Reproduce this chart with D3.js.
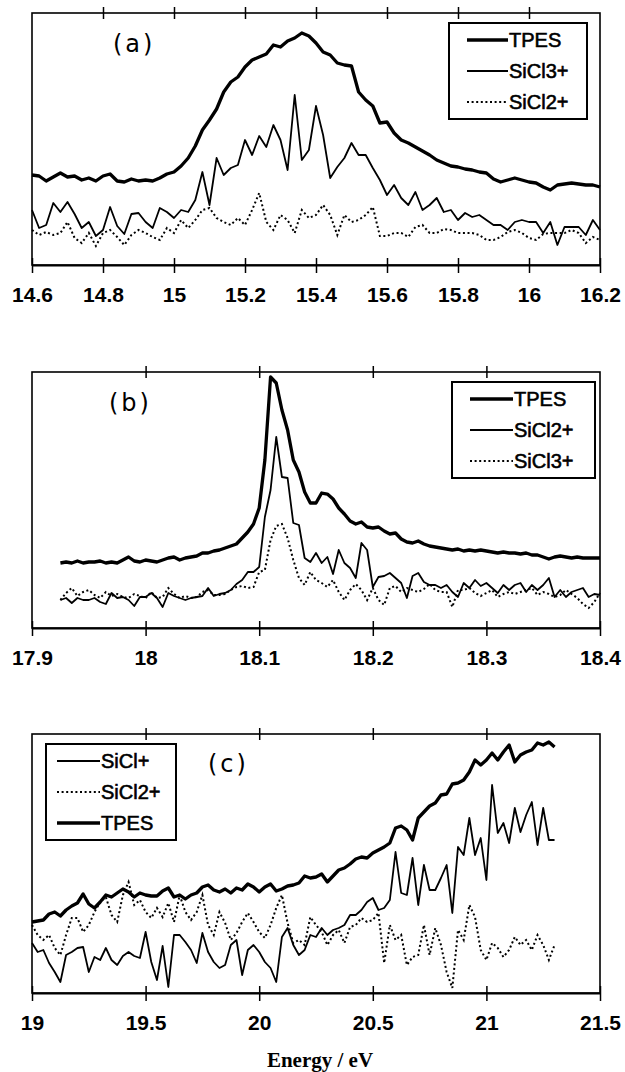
<!DOCTYPE html>
<meta charset="utf-8">
<style type="text/css">

body {
  margin: 0;
  background: #fff;
}

svg {
  display: block;
}

.frame {
  fill: none;
  stroke: #000;
  stroke-width: 1.6;
}

.tpes {
  fill: none;
  stroke: #000;
  stroke-width: 3.3;
  stroke-linejoin: round;
}

.solid {
  fill: none;
  stroke: #000;
  stroke-width: 1.8;
  stroke-linejoin: round;
}

.dotted {
  fill: none;
  stroke: #000;
  stroke-width: 2;
  stroke-dasharray: 2, 2.6;
}

.tick text {
  font-family: "Liberation Sans", Arial, sans-serif;
  font-weight: bold;
  font-size: 21px;
  fill: #000;
}

.legend rect {
  fill: #fff;
  stroke: #000;
  stroke-width: 2;
}

.legend text {
  font-family: "Liberation Sans", Arial, sans-serif;
  font-size: 20px;
  fill: #000;
  stroke: #000;
  stroke-width: 0.6;
}

.plabel {
  font-family: "DejaVu Sans", sans-serif;
  font-size: 24px;
  letter-spacing: 3px;
  fill: #000;
}

.xtitle {
  font-family: "Liberation Serif", "Times New Roman", serif;
  font-weight: bold;
  font-size: 21px;
  fill: #000;
}

</style>
<svg width="625" height="1072"></svg>
<script src="https://cdn.jsdelivr.net/npm/d3@7"></script>
<script>

// energy grids (eV) of the three scans
var energyA = d3.range(81).map(function(i){ return 14.6 + i*0.02; });
var energyB = d3.range(96).map(function(i){ return 17.925 + i*0.005; });
var energyC = d3.range(93).map(function(i){ return 19 + i*0.025; });

// (a) intensities, arbitrary units
var tpesA = [90,89,84,88,92,88,89,85,87,84, 89,91,84,83,86,84,85,84,87,91,
  93,99,107,119,135,145,156,173,183,188, 198,205,208,211,220,218,224,227,232,229,
  222,213,210,202,200,199,173,165,159,142, 143,132,125,122,118,114,110,105,102,99,
  98,96,95,93,92,86,83,85,87,85, 83,82,78,75,80,81,82,81,80,80, 78];
var sicl3A = [55,37,40,62,53,63,51,37,43,29, 35,58,39,31,51,52,43,37,57,53,
  47,55,53,65,93,60,107,90,97,100, 125,110,129,118,140,125,95,170,105,115,
  159,130,87,98,107,122,110,110,97,85, 70,80,67,60,73,55,60,67,53,55,
  45,52,48,50,45,40,40,35,43,45, 43,43,32,43,20,38,38,38,30,45, 35];
var sicl2A = [35,30,33,30,32,43,27,22,32,19, 32,35,28,20,30,35,32,28,25,37,
  32,45,37,45,55,57,47,43,40,47, 40,55,72,43,35,50,45,32,55,47,
  50,60,50,30,50,43,45,50,58,29, 29,32,32,28,38,40,32,32,36,35,
  32,32,32,30,25,25,28,33,35,32, 27,25,31,32,32,32,35,32,22,28, 25];

// (b)
var tpesB = [65,66,65,67,65,66,66,67,65,66, 65,68,71,67,66,68,67,66,68,70,
  71,68,70,71,72,75,75,77,78,80, 82,84,90,96,104,120,168,251,245,218,
  198,168,156,136,125,125,135,134,129,120, 114,107,104,106,101,100,101,97,94,95,
  89,86,85,87,84,82,81,80,79,78, 79,77,78,77,78,77,76,75,76,75,
  75,74,75,73,73,71,69,71,72,71, 70,71,70,70,70,70];
var sicl2B = [28,30,25,30,28,28,30,26,24,35, 30,31,28,22,31,31,35,30,21,35,
  32,30,28,30,31,32,40,32,34,35, 38,44,48,56,56,61,111,138,191,151,
  150,105,103,70,66,75,65,71,54,78, 65,60,50,85,78,41,51,52,55,50,
  45,30,52,55,46,43,43,40,43,36, 31,45,40,48,42,45,40,35,43,38,
  43,45,36,43,38,43,50,31,38,31, 36,38,40,31,34,33];
var sicl3B = [28,35,40,32,36,38,33,30,36,32, 34,31,30,34,32,30,36,30,31,40,
  34,30,32,30,31,36,38,33,33,34, 38,41,42,40,41,56,58,88,102,104,
  90,68,50,43,56,48,45,41,48,36, 28,38,44,38,28,40,28,23,40,42,
  36,40,38,36,39,44,38,36,36,21, 38,38,40,35,32,35,38,31,34,36,
  34,36,38,40,33,36,34,31,33,38, 34,30,24,20,26,35];

// (c)
var sicl1C = [50,41,43,30,21,11,38,41,45,46, 21,36,33,45,33,28,37,41,37,35,
  61,31,13,47,6,58,58,51,43,30, 60,41,31,25,28,48,53,18,43,48,
  41,31,25,11,56,65,48,38,43,58, 56,65,58,63,65,68,78,78,83,91,
  95,83,85,93,141,100,98,135,88,128, 103,103,115,128,80,146,138,175,138,155,
  113,208,160,170,150,185,161,178,191,148, 185,153,153];
var sicl2C = [68,58,53,58,45,38,58,75,75,61, 68,81,91,96,78,71,98,111,88,93,
  81,75,85,76,90,71,98,81,73,81, 98,68,58,81,70,53,60,71,80,71,
  61,55,68,85,98,70,50,53,48,76, 68,61,48,58,63,50,66,68,75,71,
  73,80,30,68,53,58,28,36,38,68, 38,65,48,21,5,63,53,88,76,43,
  33,50,45,36,43,56,48,53,43,58, 48,33,48];
var tpesC = [71,72,73,79,81,77,83,87,90,99, 89,85,91,98,96,100,104,101,96,100,
  98,97,97,102,105,96,98,94,98,100, 106,108,103,101,104,100,105,103,109,106,
  101,106,109,102,104,107,108,110,117,115, 116,119,111,117,123,125,129,134,136,135,
  140,143,146,150,165,167,163,153,175,181, 187,190,198,199,209,210,213,221,233,228,
  233,240,233,241,248,231,238,241,243,250, 248,251,246];

var ticksA = [14.6, 14.8, 15, 15.2, 15.4, 15.6, 15.8, 16, 16.2];
var ticksB = [17.9, 18, 18.1, 18.2, 18.3, 18.4];
var ticksC = [19, 19.5, 20, 20.5, 21, 21.5];

var svg = d3.select("svg"),
    left = 32,
    right = 600;

var panels = [
  { top: 13, bottom: 265, energy: energyA, ticks: ticksA, yMax: 252,
    series: [[tpesA, "tpes"], [sicl3A, "solid"], [sicl2A, "dotted"]],
    label: "(a)", lx: 113, ly: 52,
    leg: { x: 449, w: 138, lx1: 18, lx2: 59,
           items: [["TPES", "tpes"], ["SiCl3+", "solid"], ["SiCl2+", "dotted"]] } },
  { top: 372, bottom: 628, energy: energyB, ticks: ticksB, yMax: 256,
    series: [[tpesB, "tpes"], [sicl2B, "solid"], [sicl3B, "dotted"]],
    label: "(b)", lx: 109, ly: 411,
    leg: { x: 452, w: 143, lx1: 18, lx2: 61,
           items: [["TPES", "tpes"], ["SiCl2+", "solid"], ["SiCl3+", "dotted"]] } },
  { top: 734, bottom: 993, energy: energyC, ticks: ticksC, yMax: 259,
    series: [[sicl1C, "solid"], [sicl2C, "dotted"], [tpesC, "tpes"]],
    label: "(c)", lx: 208, ly: 772,
    leg: { x: 46, w: 130, lx1: 11, lx2: 54,
           items: [["SiCl+", "solid"], ["SiCl2+", "dotted"], ["TPES", "tpes"]] } }
];

panels.forEach(drawPanel);

svg.append("text")
   .attr("class", "xtitle")
   .attr("x", 320)
   .attr("y", 1067)
   .attr("text-anchor", "middle")
   .text("Energy / eV");

function drawPanel(p){
  var h = p.bottom - p.top;
  var ticks = p.ticks;

  var x = d3.scaleLinear()
            .domain([ticks[0], ticks[ticks.length-1]])
            .range([0, right - left]);
  var y = d3.scaleLinear()
            .domain([0, p.yMax])
            .range([h, 0]);

  var g = svg.append("g")
             .attr("transform", "translate(" + left + "," + p.top + ")");

  g.append("rect")
   .attr("class", "frame")
   .attr("width", right - left)
   .attr("height", h);

  var line = d3.line()
               .x(function(d){ return x(d[0]); })
               .y(function(d){ return y(d[1]); });

  p.series.forEach(function(s){
    var pts = d3.zip(p.energy, s[0]);
    g.append("path")
     .datum(pts)
     .attr("class", s[1])
     .attr("d", line);
  });

  // bottom axis, ticks cross the axis line
  g.append("g")
   .attr("transform", "translate(0," + h + ")")
   .call(d3.axisBottom(x)
           .tickValues(ticks)
           .tickFormat(d3.format("~g"))
           .tickSizeInner(8)
           .tickSizeOuter(0)
           .tickPadding(14))
   .call(function(a){
      a.select(".domain").attr("stroke-width", 2);
      a.selectAll(".tick line").attr("y1", -7).attr("y2", 8).attr("stroke-width", 1.5);
   });

  // top ticks, no labels
  g.append("g")
   .call(d3.axisTop(x)
           .tickValues(ticks.slice(1, -1))
           .tickFormat("")
           .tickSizeInner(6)
           .tickSizeOuter(0))
   .call(function(a){
      a.select(".domain").remove();
      a.selectAll(".tick line").attr("y1", 6).attr("y2", -6).attr("stroke-width", 1.5);
   });

  svg.append("text")
     .attr("class", "plabel")
     .attr("x", p.lx)
     .attr("y", p.ly)
     .text(p.label);

  // legend
  var lg = svg.append("g")
              .attr("class", "legend")
              .attr("transform", "translate(" + p.leg.x + "," + (p.top + 10) + ")");

  lg.append("rect")
    .attr("width", p.leg.w)
    .attr("height", 96);

  var row = lg.selectAll(".row")
              .data(p.leg.items)
              .enter().append("g")
              .attr("class", "row")
              .attr("transform", function(d, i){ return "translate(0," + (17 + i*31) + ")"; });

  row.append("line")
     .attr("class", function(d){ return d[1]; })
     .attr("x1", p.leg.lx1)
     .attr("x2", p.leg.lx2);

  row.append("text")
     .attr("x", p.leg.lx2 + 1)
     .attr("dy", "0.36em")
     .text(function(d){ return d[0]; });
}

</script>
